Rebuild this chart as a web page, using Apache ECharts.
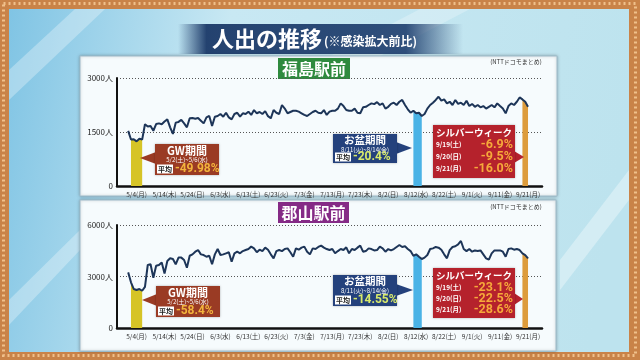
<!DOCTYPE html>
<html><head><meta charset="utf-8">
<script src="https://cdn.jsdelivr.net/npm/echarts@6/dist/echarts.min.js"></script>
<style>html,body{margin:0;padding:0;background:#fff}#c{width:640px;height:360px}</style>
</head><body><div id="c"></div><script>
// ---- data (daily, 5/1 .. 9/21) ----
const fukushima = [1530,1290,1300,1240,1315,1290,1715,1650,1665,1535,1720,1740,1715,1790,1850,1630,1445,1760,1780,1835,1740,1630,1880,1890,1870,1890,1815,1740,1905,1945,1665,1925,1945,2000,1925,2035,1905,1850,2000,2035,1925,2020,2000,2065,1975,2110,
2020,2055,2000,2080,1940,1880,2110,2035,2000,2250,2150,2020,2055,2090,2090,2065,2020,1975,1945,2000,2055,2090,2035,2020,2110,1975,2065,2090,2090,2150,2295,2220,2110,2090,2090,2150,2035,2020,2185,2200,2250,2295,2275,2330,2250,2295,2150,
2200,2280,2315,2250,2340,2390,2250,2130,2035,2090,2020,2035,1945,2000,2150,2250,2315,2390,2480,2370,2405,2295,2340,2250,2390,2280,2315,2250,2370,2220,2280,2200,2250,2185,2220,2150,2200,2250,2185,2295,2220,2150,2020,2220,2295,2250,2340,2460,2405,2340,2200];
const koriyama = [3240,2660,2270,2210,2270,2170,2400,3670,3710,2930,3630,3670,3820,3180,3900,4060,4020,3710,4100,4100,3960,3510,4210,4290,4445,4540,4290,4250,4150,4210,3710,4290,4600,4250,4290,4350,4410,3860,4350,4445,4350,4480,4540,4600,4740,4640,
4410,4560,4480,4680,4560,4290,4060,4480,4540,4480,4600,4640,4410,4150,4640,4560,4680,4740,4445,4290,4640,4600,4720,4800,4680,4600,4540,4600,4350,4480,4600,4540,4700,4350,4600,4540,4680,4800,4445,4480,4640,4600,4520,4540,4740,4640,4445,
4600,4520,4600,4720,4834,4720,4760,4600,4480,4210,4290,4150,4020,4100,4250,4600,4640,4720,4680,4560,4290,4060,4540,4720,4760,4870,5070,4600,4480,4600,4445,4520,4480,4520,4290,4060,3980,4350,4520,4520,4520,4445,4150,4600,4640,4560,4600,4540,4350,4250,4060];
const xTickLabels = ['5/4(月)','5/14(木)','5/24(日)','6/3(水)','6/13(土)','6/23(火)','7/3(金)','7/13(月)','7/23(木)','8/2(日)','8/12(水)','8/22(土)','9/1(火)','9/11(金)','9/21(月)'];
const gwRange = ['5/2(土)','5/6(水)'];
const obonRange = ['8/11(火)','8/14(金)'];
const silverRange = ['9/19(土)','9/21(月)'];
const fukushimaStats = {gw:'-49.98%', obon:'-20.4%', silver:['-6.9%','-9.5%','-16.0%']};
const koriyamaStats = {gw:'-58.4%', obon:'-14.55%', silver:['-23.1%','-22.5%','-28.6%']};
const silverDays = ['9/19(土)','9/20(日)','9/21(月)'];

// ---- categories: padding days around the data ----
const WD = '日月火水木金土';
const cats = [];
for (let k=0;k<153;k++){ const d=new Date(2020,3,27+k); cats.push((d.getMonth()+1)+'/'+d.getDate()+'('+WD[d.getDay()]+')'); }
const PADL = cats.indexOf('5/1(金)');
function pad(arr){ const out=cats.map(()=>null); arr.forEach((v,i)=>{out[PADL+i]=v;}); return out; }
function sub(arr, range){ const a=cats.indexOf(range[0]), b=cats.indexOf(range[1]); const p=pad(arr); return p.map((v,i)=> (i>=a&&i<=b)?v:null); }

const FONT='Noto Sans CJK JP';
const NUMF='Roboto';
const chart = echarts.init(document.getElementById('c'));

function txt(x,y,text,size,color,opt){ opt=opt||{}; return {type:'text', z:101, style:{x:x,y:y,text:text,fill:color,font:(opt.w||'bold')+' '+size+'px "'+(opt.f||FONT)+'"',align:opt.align||'center',verticalAlign:'middle'}}; }
function avgBox(x,y){ return [{type:'rect',z:101,shape:{x:x,y:y-4.5,width:16,height:9},style:{fill:'#fff'}}, txt(x+8,y,'平均',7,'#222')]; }
function gwCallout(bx,by,h,tipX,tipY,val){
  const cx=bx+32;
  return [{type:'polygon',z:100,shape:{points:[[bx+1,tipY-6],[tipX,tipY],[bx+1,tipY+6]]},style:{fill:'#9a3b24'}},
    {type:'rect',z:100,shape:{x:bx,y:by,width:64,height:h},style:{fill:'#9a3b24',shadowBlur:2,shadowColor:'rgba(0,0,0,0.3)'}},
    txt(cx,by+7,'GW期間',11,'#fff'), txt(cx,by+16,'5/2(土)~5/6(水)',6,'#fff',{w:'normal'}),
    ...avgBox(bx+2,by+h-6), txt(bx+20,by+h-6,val,12,'#f3b43c',{align:'left',f:NUMF})];
}
function obonCallout(bx,by,h,tipX,tipY,val){
  const cx=bx+32;
  return [{type:'polygon',z:100,shape:{points:[[bx+63,tipY-6],[tipX,tipY],[bx+63,tipY+6]]},style:{fill:'#24417c'}},
    {type:'rect',z:100,shape:{x:bx,y:by,width:64,height:h},style:{fill:'#24417c',shadowBlur:2,shadowColor:'rgba(0,0,0,0.3)'}},
    txt(cx,by+6.5,'お盆期間',10.5,'#fff'), txt(cx,by+15.5,'8/11(火)~8/14(金)',6,'#fff',{w:'normal'}),
    ...avgBox(bx+2,by+h-6), txt(bx+20,by+h-6,val,12,'#d8ea6a',{align:'left',f:NUMF})];
}
function silverCallout(bx,by,h,tipX,tipY,vals){
  const els=[{type:'polygon',z:100,shape:{points:[[bx+81,tipY-6],[tipX,tipY],[bx+81,tipY+6]]},style:{fill:'#b5222c'}},
    {type:'rect',z:100,shape:{x:bx,y:by,width:82,height:h},style:{fill:'#b5222c',shadowBlur:2,shadowColor:'rgba(0,0,0,0.3)'}},
    txt(bx+41,by+7.5,'シルバーウィーク',9.5,'#fff')];
  const step=(h-17)/3;
  silverDays.forEach((d,i)=>{ const y=by+20+i*step; els.push(txt(bx+3,y,d,6.5,'#fff',{align:'left'})); els.push(txt(bx+80,y,vals[i],12.5,'#f6a93a',{align:'right',f:NUMF})); });
  return els;
}

const bgGrad = new echarts.graphic.LinearGradient(0,0,1,0.3,[{offset:0,color:'#80c4e4'},{offset:0.35,color:'#c8e8f3'},{offset:1,color:'#bde3ee'}]);
const bannerGrad = new echarts.graphic.LinearGradient(0,0,1,0,[{offset:0,color:'rgba(22,52,100,0)'},{offset:0.1,color:'rgba(22,52,100,0.92)'},{offset:0.8,color:'rgba(30,62,110,0.9)'},{offset:1,color:'rgba(30,62,110,0)'}]);

const graphic = [
  {type:'rect',z:-100,shape:{x:0,y:0,width:640,height:360},style:{fill:'#c98348'}},
  {type:'rect',z:-99,shape:{x:3.5,y:3.5,width:632,height:352},style:{fill:null,stroke:'#f0c08a',lineWidth:3,lineDash:[2,3]}},
  {type:'rect',z:-98,shape:{x:9,y:9,width:620,height:343},style:{fill:bgGrad}},
  {type:'polygon',z:-97,shape:{points:[[9,70],[75,9],[105,9],[9,100]]},style:{fill:'rgba(255,255,255,0.3)'}},
  {type:'polygon',z:-97,shape:{points:[[9,300],[80,230],[80,250],[9,325]]},style:{fill:'rgba(255,255,255,0.3)'}},
  {type:'polygon',z:-97,shape:{points:[[560,260],[629,170],[629,200],[560,290]]},style:{fill:'rgba(255,255,255,0.35)'}},
  {type:'polygon',z:-97,shape:{points:[[420,9],[470,9],[380,56],[330,56]]},style:{fill:'rgba(255,255,255,0.25)'}},
  {type:'rect',z:-96,shape:{x:178,y:24,width:285,height:30},style:{fill:bannerGrad}},
  {type:'text',z:-95,style:{x:212,y:39,text:'人出の推移',fill:'#fff',font:'bold 22px "'+FONT+'"',align:'left',verticalAlign:'middle'}},
  {type:'text',z:-95,style:{x:324,y:41,text:'(※感染拡大前比)',fill:'#fff',font:'bold 12px "'+FONT+'"',align:'left',verticalAlign:'middle'}},
  {type:'rect',z:-94,shape:{x:80,y:56,width:477,height:140},style:{fill:'#f6fbfd',stroke:'#9fbccb',lineWidth:1,shadowBlur:3,shadowColor:'rgba(0,0,0,0.25)'}},
  {type:'rect',z:-94,shape:{x:80,y:200,width:476,height:151},style:{fill:'#f6fbfd',stroke:'#9fbccb',lineWidth:1,shadowBlur:3,shadowColor:'rgba(0,0,0,0.25)'}},
  {type:'rect',z:-93,shape:{x:278,y:58,width:72,height:21},style:{fill:'#2f8a3e'}},
  {type:'text',z:-92,style:{x:314,y:68.5,text:'福島駅前',fill:'#fff',font:'bold 16px "'+FONT+'"',align:'center',verticalAlign:'middle'}},
  {type:'rect',z:-93,shape:{x:278,y:202,width:71,height:21},style:{fill:'#852a86'}},
  {type:'text',z:-92,style:{x:313.5,y:212.5,text:'郡山駅前',fill:'#fff',font:'bold 16px "'+FONT+'"',align:'center',verticalAlign:'middle'}},
  {type:'text',z:-92,style:{x:516,y:62,text:'(NTTドコモまとめ)',fill:'#333',font:'6px "'+FONT+'"',align:'center',verticalAlign:'middle'}},
  {type:'text',z:-92,style:{x:516,y:207,text:'(NTTドコモまとめ)',fill:'#333',font:'6px "'+FONT+'"',align:'center',verticalAlign:'middle'}},
  ...gwCallout(155,144,31,140,158,fukushimaStats.gw),
  ...obonCallout(333,134,29,412,148,fukushimaStats.obon),
  ...silverCallout(433,125,53,524,157,fukushimaStats.silver),
  ...gwCallout(156,286,31,142,300,koriyamaStats.gw),
  ...obonCallout(333,275,31,413,290,koriyamaStats.obon),
  ...silverCallout(433,268,50,523,299,koriyamaStats.silver)
];

function xAx(gi){ return {type:'category',gridIndex:gi,data:cats,boundaryGap:false,
  axisLine:{lineStyle:{color:'#111',width:2.5}},axisTick:{show:false},splitLine:{show:false},
  axisLabel:{interval:(i,v)=>xTickLabels.includes(v),fontSize:6.5,color:'#333',margin:5,fontFamily:FONT}}; }
function yAx(gi,max,step){ return {type:'value',gridIndex:gi,min:0,max:max,interval:step,
  axisLine:{show:true,lineStyle:{color:'#111',width:2}},axisTick:{show:false},
  axisLabel:{formatter:v=>v===0?'0':v+'人',fontSize:8,color:'#222',margin:4,fontFamily:FONT},
  splitLine:{lineStyle:{type:[1,2],color:'#555',width:1}}}; }
function hl(data,range,color,gi){ return {type:'line',xAxisIndex:gi,yAxisIndex:gi,data:sub(data,range),symbol:'none',silent:true,z:3,
  lineStyle:{width:0},areaStyle:{color:color,opacity:1}}; }
function mainLine(data,gi){ return {type:'line',xAxisIndex:gi,yAxisIndex:gi,data:pad(data),symbol:'none',z:5,
  lineStyle:{color:'#1d3558',width:2},silent:true}; }

chart.setOption({
  animation:false,
  graphic:graphic,
  grid:[{left:117,right:98,top:78,height:108},{left:117,right:98,top:225,height:103}],
  xAxis:[xAx(0),xAx(1)],
  yAxis:[yAx(0,3000,1500),yAx(1,6000,3000)],
  series:[
    hl(fukushima,gwRange,'#d6c426',0), hl(fukushima,obonRange,'#4ab3e6',0), hl(fukushima,silverRange,'#dd9c3c',0),
    mainLine(fukushima,0),
    hl(koriyama,gwRange,'#d6c426',1), hl(koriyama,obonRange,'#4ab3e6',1), hl(koriyama,silverRange,'#dd9c3c',1),
    mainLine(koriyama,1)
  ]
});
</script></body></html>
